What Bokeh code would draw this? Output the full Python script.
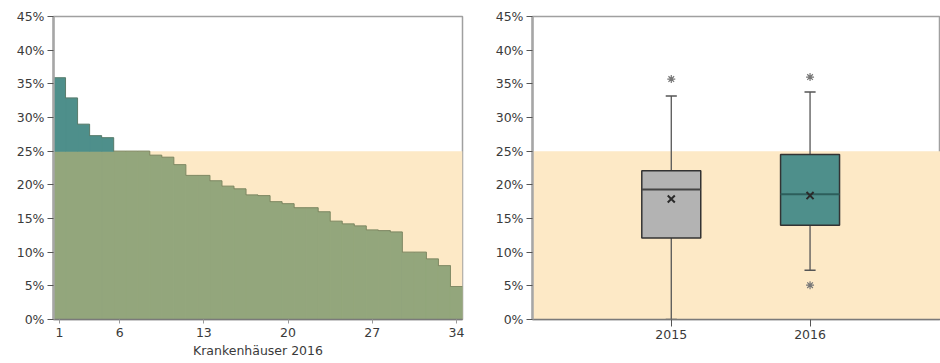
import numpy as np
from bokeh.plotting import figure
from bokeh.layouts import row
from bokeh.models import Range1d, FixedTicker, PrintfTickFormatter, BoxAnnotation, ColumnDataSource
from bokeh.embed import file_html
from bokeh.resources import INLINE

# ---------------- data ----------------
hospital_values_2016 = [35.9, 32.9, 29.0, 27.3, 27.0, 25.0, 25.0, 25.0, 24.4, 24.1,
                        23.0, 21.4, 21.4, 20.6, 19.8, 19.4, 18.5, 18.4, 17.5, 17.2,
                        16.6, 16.6, 16.0, 14.6, 14.2, 13.9, 13.3, 13.2, 13.0, 10.0,
                        10.0, 9.0, 8.0, 4.9]
hospital_ticks = [1, 6, 13, 20, 27, 34]
x_title = "Krankenhäuser 2016"
target_value = 25.0
y_ticks = [0, 5, 10, 15, 20, 25, 30, 35, 40, 45]

years = ["2015", "2016"]
box_low = [0.0, 7.3]
box_q1 = [12.1, 14.0]
box_median = [19.3, 18.6]
box_q3 = [22.1, 24.5]
box_high = [33.2, 33.8]
box_mean = [17.9, 18.4]
outlier_year = ["2015", "2016", "2016"]
outlier_value = [35.7, 36.0, 5.1]

# ---------------- styles ----------------
TEAL = "#4e8f8b"
GREEN = "#93a67c"
BEIGE = "#fde9c6"
GREY_BOX = "#b3b3b3"
FONT = "DejaVu Sans"
LABEL_COLOR = "#3a3a3a"


def style_axes(p):
    p.xgrid.visible = False
    p.ygrid.visible = False
    p.outline_line_color = "#a0a0a0"
    p.outline_line_width = 1.5
    p.background_fill_color = "white"
    p.border_fill_color = "white"
    for ax in (p.xaxis[0], p.yaxis[0]):
        ax.major_label_text_font = FONT
        ax.major_label_text_font_size = "12.5px"
        ax.major_label_text_color = LABEL_COLOR
        ax.major_tick_line_color = "#555555"
        ax.major_tick_in = 0
        ax.minor_tick_line_color = None
    p.yaxis[0].axis_line_color = "#a6a6a6"
    p.yaxis[0].axis_line_width = 2.5
    p.yaxis[0].major_tick_out = 6
    p.yaxis[0].major_label_standoff = 3
    p.yaxis[0].ticker = FixedTicker(ticks=y_ticks)
    p.yaxis[0].formatter = PrintfTickFormatter(format="%d%%")
    p.xaxis[0].axis_line_color = "#7a7a7a"
    p.xaxis[0].axis_line_width = 1.5


# ---------------- left chart ----------------
vals = np.array(hospital_values_2016)
idx = np.arange(1, len(vals) + 1)
n = len(vals)

p1 = figure(width=470, height=363, output_backend="svg", toolbar_location=None,
            x_range=Range1d(0.5, n + 0.5), y_range=Range1d(0, 45),
            min_border_left=53, min_border_right=8, min_border_top=15, min_border_bottom=44)
style_axes(p1)
p1.add_layout(BoxAnnotation(bottom=0, top=target_value, fill_color=BEIGE, fill_alpha=1.0,
                            line_color=None, level="underlay"))

low_src = ColumnDataSource(dict(x=idx, top=np.minimum(vals, target_value)))
p1.vbar(x="x", top="top", bottom=0, width=1.0, source=low_src,
        fill_color=GREEN, line_color=GREEN, line_width=1)
hi_mask = vals > target_value
hi_src = ColumnDataSource(dict(x=idx[hi_mask], top=vals[hi_mask]))
p1.vbar(x="x", top="top", bottom=target_value, width=1.0, source=hi_src,
        fill_color=TEAL, line_color=TEAL, line_width=1)
# outline of the steps
step_x = list(idx - 0.5) + [n + 0.5]
step_y = list(vals) + [vals[-1]]
p1.step(step_x, step_y, mode="after", line_color="#6f6a4c", line_alpha=0.45, line_width=1)

p1.xaxis[0].ticker = FixedTicker(ticks=hospital_ticks)
p1.xaxis[0].major_tick_out = 4
p1.xaxis[0].major_tick_line_color = "#9a9a9a"
p1.xaxis[0].major_label_standoff = 4
p1.xaxis[0].axis_label = x_title
p1.xaxis[0].axis_label_text_font = FONT
p1.xaxis[0].axis_label_text_font_size = "12.5px"
p1.xaxis[0].axis_label_text_font_style = "normal"
p1.xaxis[0].axis_label_text_color = LABEL_COLOR
p1.xaxis[0].axis_label_standoff = 3

# ---------------- right chart ----------------
pos = np.arange(1, len(years) + 1)
p2 = figure(width=470, height=363, output_backend="svg", toolbar_location=None,
            x_range=Range1d(0, 2.94), y_range=Range1d(0, 45),
            min_border_left=62, min_border_right=0, min_border_top=16, min_border_bottom=39)
style_axes(p2)
p2.add_layout(BoxAnnotation(bottom=0, top=target_value, fill_color=BEIGE, fill_alpha=1.0,
                            line_color=None, level="underlay"))

box_w = 0.425
cap_w = 0.08
box_src = ColumnDataSource(dict(
    x=pos, q1=box_q1, q3=box_q3, med=box_median, lo=box_low, hi=box_high, mean=box_mean,
    fill=[GREY_BOX, TEAL], medcol=["#444444", "#2d5e5b"],
    bx0=pos - box_w / 2, bx1=pos + box_w / 2, cx0=pos - cap_w / 2, cx1=pos + cap_w / 2))

# whiskers
p2.segment(x0="x", y0="q3", x1="x", y1="hi", source=box_src, line_color="#555555", line_width=1.3)
p2.segment(x0="x", y0="q1", x1="x", y1="lo", source=box_src, line_color="#555555", line_width=1.3)
p2.segment(x0="cx0", y0="hi", x1="cx1", y1="hi", source=box_src, line_color="#555555", line_width=1.5)
p2.segment(x0="cx0", y0="lo", x1="cx1", y1="lo", source=box_src, line_color="#555555", line_width=1.5)
# boxes
p2.vbar(x="x", bottom="q1", top="q3", width=box_w, source=box_src,
        fill_color="fill", line_color="#333333", line_width=1.5)
p2.segment(x0="bx0", y0="med", x1="bx1", y1="med", source=box_src, line_color="medcol", line_width=2)
p2.scatter(x="x", y="mean", source=box_src, marker="x", size=10, line_color="#2b2b2b", line_width=2)
# outliers
year_pos = {y: i + 1 for i, y in enumerate(years)}
p2.scatter([year_pos[y] for y in outlier_year], outlier_value, marker="asterisk", size=8,
           line_color="#777777", line_width=1.2)

p2.xaxis[0].ticker = FixedTicker(ticks=list(pos))
p2.xaxis[0].major_label_overrides = {int(i + 1): y for i, y in enumerate(years)}
p2.xaxis[0].major_tick_out = 7
p2.xaxis[0].major_label_standoff = 3

layout = row(p1, p2)
open("out.html", "w").write(file_html(layout, INLINE))
